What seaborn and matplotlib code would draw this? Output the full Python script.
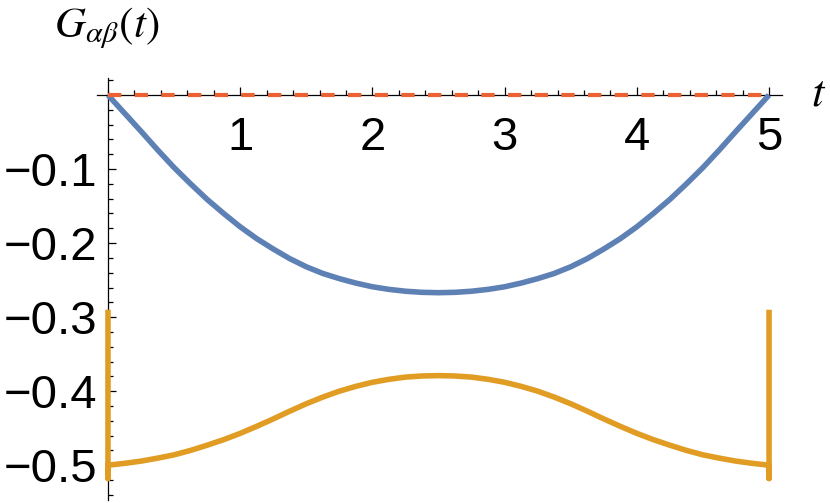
import matplotlib
matplotlib.use('Agg')
import matplotlib.pyplot as plt
import matplotlib.ticker as mticker
import seaborn as sns

sns.set_theme(style='white')
plt.rcParams['font.family'] = ['Liberation Sans', 'DejaVu Sans']
plt.rcParams['mathtext.fontset'] = 'stix'

# values
t = [0.0, 0.125, 0.25, 0.375, 0.5, 0.625, 0.75, 0.875, 1.0, 1.125, 1.25, 1.375, 1.5,
     1.625, 1.75, 1.875, 2.0, 2.125, 2.25, 2.375, 2.5, 2.625, 2.75, 2.875, 3.0, 3.125,
     3.25, 3.375, 3.5, 3.625, 3.75, 3.875, 4.0, 4.125, 4.25, 4.375, 4.5, 4.625, 4.75,
     4.875, 5.0]
g_blue = [0.0, -0.0245, -0.049, -0.074, -0.098, -0.120, -0.141, -0.160, -0.178, -0.194,
          -0.208, -0.221, -0.232, -0.241, -0.248, -0.254, -0.259, -0.2625, -0.265, -0.2665,
          -0.267, -0.2665, -0.265, -0.2625, -0.259, -0.254, -0.248, -0.241, -0.232, -0.221,
          -0.208, -0.194, -0.178, -0.160, -0.141, -0.120, -0.098, -0.074, -0.049, -0.0245, 0.0]
g_orange = [-0.500, -0.4975, -0.4945, -0.4905, -0.486, -0.480, -0.473, -0.4655, -0.457,
            -0.4475, -0.4375, -0.427, -0.417, -0.408, -0.400, -0.3935, -0.388, -0.384, -0.381,
            -0.3795, -0.379, -0.3795, -0.381, -0.384, -0.388, -0.3935, -0.400, -0.408, -0.417,
            -0.427, -0.4375, -0.4475, -0.457, -0.4655, -0.473, -0.480, -0.486, -0.4905,
            -0.4945, -0.4975, -0.500]
# vertical spikes of the orange curve at both ends
spike_top = -0.29
spike_bottom = -0.518
t_red = [0.0, 5.0]
g_red = [0.0, 0.0]

xticks = [1, 2, 3, 4, 5]
xticklabels = ['1', '2', '3', '4', '5']
yticks = [-0.5, -0.4, -0.3, -0.2, -0.1]
yticklabels = ['\u22120.5', '\u22120.4', '\u22120.3', '\u22120.2', '\u22120.1']

blue = '#5E81B5'
orange = '#E19C24'
red = '#EB6235'

t_orange = [t[0], t[0]] + t + [t[-1], t[-1]]
g_orange_full = [spike_top, spike_bottom] + g_orange + [spike_bottom, spike_top]

fig = plt.figure(figsize=(8.3, 5.03), dpi=100)
ax = fig.add_axes([97 / 830, 3 / 503, 685 / 830, 422 / 503])

sns.lineplot(x=t, y=g_blue, color=blue, lw=4.0, sort=False, estimator=None, ax=ax, zorder=3)
sns.lineplot(x=t_orange, y=g_orange_full, color=orange, lw=4.0, sort=False, estimator=None,
             ax=ax, zorder=3)
sns.lineplot(x=t_red, y=g_red, color=red, lw=3.0, sort=False, estimator=None, ax=ax, zorder=3)
for ln in ax.lines[:2]:
    ln.set_solid_joinstyle('round')
    ln.set_solid_capstyle('butt')
ax.lines[-1].set_dashes([3.2, 3.2])
ax.lines[-1].set_dash_capstyle('butt')

ax.set_xlim(-0.083, 5.098)
ax.set_ylim(-0.547, 0.023)

for s in ['top', 'right']:
    ax.spines[s].set_visible(False)
ax.spines['left'].set_position(('data', 0))
ax.spines['bottom'].set_position(('data', 0))
for s in ['left', 'bottom']:
    ax.spines[s].set_color('black')
    ax.spines[s].set_linewidth(0.9)
    ax.spines[s].set_zorder(2)

ax.set_xticks(xticks)
ax.set_xticklabels(xticklabels)
ax.set_yticks(yticks)
ax.set_yticklabels(yticklabels)
ax.xaxis.set_minor_locator(mticker.MultipleLocator(0.2))
ax.yaxis.set_minor_locator(mticker.MultipleLocator(0.02))
ax.tick_params(which='both', direction='in', color='black', width=0.9,
               bottom=True, left=True)
ax.tick_params(which='major', length=6)
ax.tick_params(which='minor', length=3.5)
ax.tick_params(axis='x', which='major', pad=15, labelsize=34, labelcolor='black')
ax.tick_params(axis='y', which='major', pad=8, labelsize=34, labelcolor='black')
ax.set_xlabel('')
ax.set_ylabel('')

fig.text(107 / 830, 1 - 37 / 503, r'$G_{\alpha\beta}(t)$', ha='center', va='baseline',
         fontsize=31, color='black')
fig.text(811 / 830, 1 - 105 / 503, r'$t$', ha='left', va='baseline', fontsize=32, color='black')

fig.savefig('out.png', dpi=100)
